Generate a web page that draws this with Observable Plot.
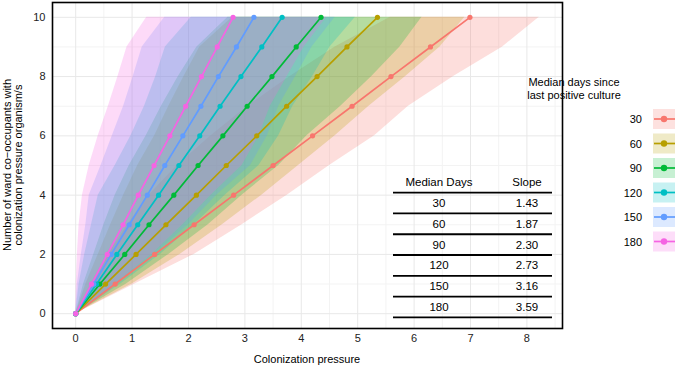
<!DOCTYPE html>
<html><head><meta charset="utf-8">
<script src="https://cdn.jsdelivr.net/npm/d3@7"></script>
<script src="https://cdn.jsdelivr.net/npm/@observablehq/plot@0.6"></script>
<style>
body{margin:0;background:#fff;}
svg{font-family:"Liberation Sans",Arial,Helvetica,sans-serif;}
</style>
</head><body><div id="chart"></div>
<script>
// Groups (median days since last positive culture)
const groups = ["30","60","90","120","150","180"];
const colors = ["#F8766D","#B79F00","#00BA38","#00BFC4","#619CFF","#F564E3"];
const slopes = ["1.43","1.87","2.30","2.73","3.16","3.59"];

// Number of ward co-occupants (y)
const yLevels = [0,1,2,3,4,5,6,7,8,9,10];

// Colonization pressure at each y (line)
const x30  = [0,0.70,1.40,2.10,2.80,3.50,4.20,4.90,5.59,6.29,6.99];
const x60  = [0,0.53,1.07,1.60,2.14,2.67,3.21,3.74,4.28,4.81,5.35];
const x90  = [0,0.43,0.87,1.30,1.74,2.17,2.61,3.04,3.48,3.91,4.35];
const x120 = [0,0.37,0.73,1.10,1.47,1.83,2.20,2.56,2.93,3.30,3.66];
const x150 = [0,0.32,0.63,0.95,1.27,1.58,1.90,2.22,2.53,2.85,3.16];
const x180 = [0,0.28,0.56,0.84,1.11,1.39,1.67,1.95,2.23,2.51,2.79];

// Band lower edges
const lo30  = [0,0.28,0.58,0.92,1.30,1.80,2.40,3.05,3.80,4.60,5.58];
const lo60  = [0,0.18,0.40,0.62,0.85,1.10,1.40,1.65,1.92,2.20,2.78];
const lo90  = [0,0.14,0.32,0.50,0.70,0.95,1.25,1.52,1.82,2.15,2.70];
const lo120 = [0,0.06,0.16,0.28,0.40,0.70,0.98,1.22,1.42,1.59,2.05];
const lo150 = [0,0.03,0.10,0.18,0.24,0.45,0.65,0.85,1.02,1.18,1.58];
const lo180 = [0,0.01,0.03,0.06,0.12,0.24,0.40,0.58,0.75,0.91,1.26];

// Band upper edges
const hi30  = [0,1.05,2.10,2.95,3.75,4.50,5.30,5.90,6.70,7.57,8.22];
const hi60  = [0,1.00,1.85,2.60,3.30,3.95,4.60,5.20,5.85,6.46,6.90];
const hi90  = [0,0.90,1.65,2.35,2.95,3.60,4.10,4.70,5.25,5.75,6.14];
const hi120 = [0,0.80,1.50,2.10,2.65,3.25,3.60,3.85,4.20,4.51,4.96];
const hi150 = [0,0.75,1.40,2.00,2.50,3.10,3.40,3.60,3.90,4.19,4.60];
const hi180 = [0,0.70,1.35,1.90,2.40,2.95,3.25,3.45,3.75,4.05,4.45];

// Axis ticks
const xTicks = [0,1,2,3,4,5,6,7,8];
const yTicks = [0,2,4,6,8,10];
const xMinor = [0.5,1.5,2.5,3.5,4.5,5.5,6.5,7.5,8.5];
const yMinor = [1,3,5,7,9];

const xs = [x30,x60,x90,x120,x150,x180];
const los = [lo30,lo60,lo90,lo120,lo150,lo180];
const his = [hi30,hi60,hi90,hi120,hi150,hi180];

const rows = [];
groups.forEach((g, gi) => {
  yLevels.forEach((y, i) => {
    rows.push({group: g, y, x: xs[gi][i], lo: los[gi][i], hi: his[gi][i]});
  });
});

const FONT = '"Liberation Sans",Arial,Helvetica,sans-serif';
const ALPHA = 0.24;

const plot = Plot.plot({
  width: 675, height: 366,
  marginLeft: 52, marginRight: 113, marginTop: 2, marginBottom: 38,
  style: {fontFamily: FONT, fontSize: "11px", background: "#fff"},
  x: {domain: [-0.411, 8.631]},
  y: {domain: [-0.5, 10.5]},
  color: {domain: groups, range: colors},
  marks: [
    Plot.ruleX(xMinor, {stroke: "#F3F3F3", strokeWidth: 1}),
    Plot.ruleY(yMinor, {stroke: "#F3F3F3", strokeWidth: 1}),
    Plot.ruleX(xTicks, {stroke: "#E8E8E8", strokeWidth: 1}),
    Plot.ruleY(yTicks, {stroke: "#E8E8E8", strokeWidth: 1}),
    Plot.areaX(rows, {y: "y", x1: "lo", x2: "hi", z: "group", fill: "group", fillOpacity: ALPHA}),
    Plot.line(rows, {x: "x", y: "y", z: "group", stroke: "group", strokeWidth: 1.7}),
    Plot.dot(rows, {x: "x", y: "y", fill: "group", r: 2.6}),
    Plot.axisX(xTicks, {tickSize: 0, tickPadding: 6, label: null, fill: "#222", fontSize: 11}),
    Plot.axisY(yTicks, {tickSize: 0, tickPadding: 7, label: null, fill: "#222", fontSize: 11}),
    Plot.frame({stroke: "#000", strokeWidth: 1.6})
  ]
});

document.getElementById("chart").appendChild(plot);
const svg = d3.select(plot);

// Axis titles
svg.append("text").attr("x", 307).attr("y", 359)
  .attr("text-anchor", "middle").attr("dominant-baseline", "central")
  .attr("font-size", 11).attr("fill", "#000").text("Colonization pressure");
const yt = svg.append("g").attr("transform", "translate(0,165) rotate(-90)");
yt.append("text").attr("x", 0).attr("y", 6.5).attr("text-anchor", "middle")
  .attr("dominant-baseline", "central").attr("font-size", 11).attr("fill", "#000")
  .text("Number of ward co\u2212occupants with");
yt.append("text").attr("x", 0).attr("y", 18).attr("text-anchor", "middle")
  .attr("dominant-baseline", "central").attr("font-size", 11).attr("fill", "#000")
  .text("colonization pressure organism/s");

// Legend
const lg = svg.append("g");
lg.append("text").attr("x", 574).attr("y", 82).attr("dominant-baseline", "central")
  .attr("font-size", 11).attr("fill", "#000").text("Median days since");
lg.append("text").attr("x", 574).attr("y", 94.5).attr("dominant-baseline", "central")
  .attr("font-size", 11).attr("fill", "#000").text("last positive culture");
groups.forEach((g, i) => {
  const cy = 119 + i * 24.5;
  lg.append("rect").attr("x", 653).attr("y", cy - 10).attr("width", 24).attr("height", 20)
    .attr("fill", colors[i]).attr("fill-opacity", 0.22);
  lg.append("line").attr("x1", 654).attr("x2", 675).attr("y1", cy).attr("y2", cy)
    .attr("stroke", colors[i]).attr("stroke-width", 1.7);
  lg.append("circle").attr("cx", 664).attr("cy", cy).attr("r", 3.2).attr("fill", colors[i]);
  lg.append("text").attr("x", 642).attr("y", cy).attr("text-anchor", "end")
    .attr("dominant-baseline", "central").attr("font-size", 11).attr("fill", "#000").text(g);
});

// Inset table
const tb = svg.append("g");
const c1 = 439, c2 = 527, tx1 = 393, tx2 = 552;
tb.append("text").attr("x", c1).attr("y", 181.7).attr("text-anchor", "middle")
  .attr("dominant-baseline", "central").attr("font-size", 11.5).text("Median Days");
tb.append("text").attr("x", c2).attr("y", 181.7).attr("text-anchor", "middle")
  .attr("dominant-baseline", "central").attr("font-size", 11.5).text("Slope");
const ruleYs = [192.7];
groups.forEach((g, i) => ruleYs.push(192.7 + (i + 1) * 20.77));
ruleYs.forEach(ry => {
  tb.append("line").attr("x1", tx1).attr("x2", tx2).attr("y1", ry).attr("y2", ry)
    .attr("stroke", "#000").attr("stroke-width", 1.8);
});
groups.forEach((g, i) => {
  const cy = 192.7 + (i + 0.5) * 20.77;
  tb.append("text").attr("x", c1).attr("y", cy).attr("text-anchor", "middle")
    .attr("dominant-baseline", "central").attr("font-size", 11.5).text(g);
  tb.append("text").attr("x", c2).attr("y", cy).attr("text-anchor", "middle")
    .attr("dominant-baseline", "central").attr("font-size", 11.5).text(slopes[i]);
});
</script>
</body></html>
